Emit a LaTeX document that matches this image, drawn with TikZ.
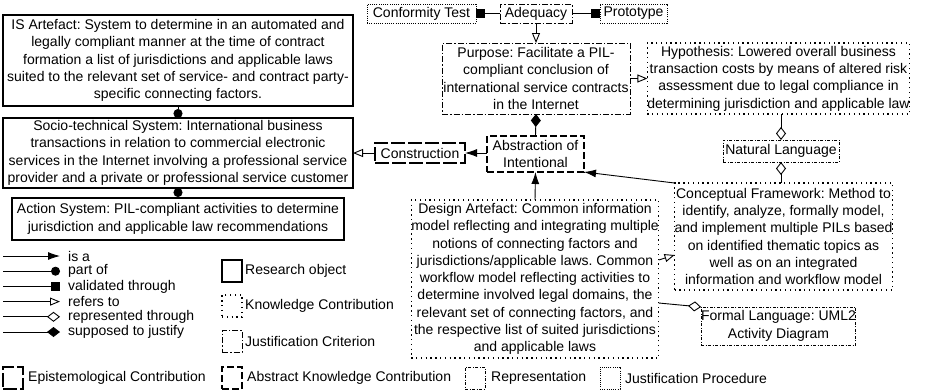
\documentclass[tikz,border=0pt]{standalone}
\usepackage{fontspec}
\setmainfont{Liberation Sans}
\usetikzlibrary{arrows.meta}
\frenchspacing
\newcommand{\fs}{\fontsize{14}{17.3}\selectfont}
\tikzset{
 base/.style={draw, inner sep=0pt, outer sep=0pt, align=center, font=\fs},
 resobj/.style={base, line width=1.6pt},
 epi/.style={base, line width=1.4pt, dash pattern=on 14pt off 3pt},
 akc/.style={base, line width=1.4pt, dash pattern=on 7pt off 3pt},
 jcrit/.style={base, line width=1pt, dash pattern=on 6pt off 2pt on 1.5pt off 2pt},
 repr/.style={base, line width=1pt, dash pattern=on 3pt off 1.5pt on 1pt off 1.5pt},
 know/.style={base, line width=1.2pt, dash pattern=on 1.3pt off 3.5pt},
 jproc/.style={base, line width=1pt, dash pattern=on 1pt off 1.2pt},
 conn/.style={line width=0.9pt},
 isa/.style={conn, -{Latex[length=12pt,width=8pt]}},
 partof/.style={conn, -{Circle[length=9pt]}},
 valid/.style={conn, -{Square[length=9pt]}},
 refers/.style={conn, -{Triangle[open,length=10pt,width=8pt]}},
 repthr/.style={conn, -{Diamond[open,length=13pt,width=10pt]}},
 justify/.style={conn, -{Diamond[length=13pt,width=10pt]}},
 lbl/.style={inner sep=0pt, anchor=west, font=\fs},
 lbox/.style={minimum width=20pt, minimum height=22pt},
}
\begin{document}
\begin{tikzpicture}[x=1pt,y=-1pt]
\useasboundingbox (0,0) rectangle (931,391);
% main nodes
\node[resobj, minimum width=350pt, minimum height=91pt] (isart) at (178,60.5) {IS Artefact: System to determine in an automated and\\ legally compliant manner at the time of contract\\ formation a list of jurisdictions and applicable laws\\ suited to the relevant set of service- and contract party-\\ specific connecting factors.};
\node[resobj, minimum width=350pt, minimum height=70pt] (socio) at (178,153) {Socio-technical System: International business\\ transactions in relation to commercial electronic\\ services in the Internet involving a professional service\\ provider and a private or professional service customer};
\node[resobj, minimum width=332pt, minimum height=42pt] (action) at (178,219) {Action System: PIL-compliant activities to determine\\ jurisdiction and applicable law recommendations};
\node[epi, minimum width=90pt, minimum height=20pt] (constr) at (420,153) {Construction};
\node[akc, minimum width=97pt, minimum height=36pt] (abstr) at (535.5,154) {Abstraction of\\ Intentional};
\node[jcrit, minimum width=188pt, minimum height=71pt] (purpose) at (536,78.5) {Purpose: Facilitate a PIL-\\ compliant conclusion of\\ international service contracts\\ in the Internet};
\node[jcrit, minimum width=72pt, minimum height=19pt] (adeq) at (536,13.5) {Adequacy};
\node[jproc, minimum width=109pt, minimum height=19pt] (conf) at (421.5,13.5) {Conformity Test};
\node[jproc, minimum width=67pt, minimum height=19pt] (proto) at (633.5,13.5) {Prototype};
\node[know, minimum width=257pt, minimum height=71pt] (hypo) at (778.5,78.5) {Hypothesis: Lowered overall business\\ transaction costs by means of altered risk\\ assessment due to legal compliance in\\ determining jurisdiction and applicable law};
\node[repr, minimum width=116pt, minimum height=22pt] (natlang) at (781,151) {Natural Language};
\node[know, minimum width=217pt, minimum height=107pt] (concept) at (783.5,236.5) {Conceptual Framework: Method to\\ identify, analyze, formally model,\\ and implement multiple PILs based\\ on identified thematic topics as\\ well as on an integrated\\ information and workflow model};
\node[know, minimum width=246pt, minimum height=158pt] (design) at (535,279) {Design Artefact: Common information\\ model reflecting and integrating multiple\\ notions of connecting factors and\\ jurisdictions/applicable laws. Common\\ workflow model reflecting activities to\\ determine involved legal domains, the\\ relevant set of connecting factors, and\\ the respective list of suited jurisdictions\\ and applicable laws};
\node[repr, minimum width=151pt, minimum height=38pt] (formal) at (778.5,326) {Formal Language: UML2\\ Activity Diagram};
% connectors
\draw[partof] (isart.south) -- (socio.north);
\draw[partof] (action.north) -- (socio.south);
\draw[refers] (constr.west) -- (socio.east |- constr.west);
\draw[isa] (abstr.west |- constr.east) -- (constr.east);
\draw[justify] (abstr.north) -- (purpose.south);
\draw[valid] (adeq.west) -- (conf.east);
\draw[valid] (adeq.east) -- (proto.west);
\draw[refers] (adeq.south) -- (purpose.north);
\draw[refers] (purpose.east) -- (hypo.west);
\draw[repthr] (natlang.north |- hypo.south) -- (natlang.north);
\draw[repthr] (natlang.south |- concept.north) -- (natlang.south);
\draw[isa] (concept.north west) -- (abstr.south east);
\draw[isa] (design.north) -- (abstr.south);
\draw[refers] ([yshift=19pt]design.east) -- ([yshift=-18.5pt]concept.west);
\draw[repthr] ([yshift=-24pt]design.east) -- (formal.north west);
% legend arrows
\foreach \i/\st/\txt in {0/isa/is a, 1/partof/part of, 2/valid/validated through, 3/refers/refers to, 4/repthr/represented through, 5/justify/supposed to justify}{
  \coordinate (la\i) at (3,256+15.2*\i);
  \coordinate (lb\i) at (60,256+15.2*\i);
  \draw[\st] (la\i) -- (lb\i);
  \node[lbl] (lt\i) at (68,256+15.2*\i) {\txt};
}
% legend boxes
\node[resobj, lbox] (k1) at (232,271) {};
\node[lbl] (k1t) at (245,271) {Research object};
\node[know, lbox] (k2) at (232,306) {};
\node[lbl] (k2t) at (245,306) {Knowledge Contribution};
\node[jcrit, lbox] (k3) at (232,341) {};
\node[lbl] (k3t) at (245,341) {Justification Criterion};
\node[epi, lbox] (k4) at (13,378) {};
\node[lbl] (k4t) at (28,378) {Epistemological Contribution};
\node[akc, lbox] (k5) at (232,378) {};
\node[lbl] (k5t) at (247,378) {Abstract Knowledge Contribution};
\node[repr, lbox] (k6) at (475,378) {};
\node[lbl] (k6t) at (491,378) {Representation};
\node[jproc, lbox] (k7) at (610,378) {};
\node[lbl] (k7t) at (625,378) {Justification Procedure};
\end{tikzpicture}
\end{document}
